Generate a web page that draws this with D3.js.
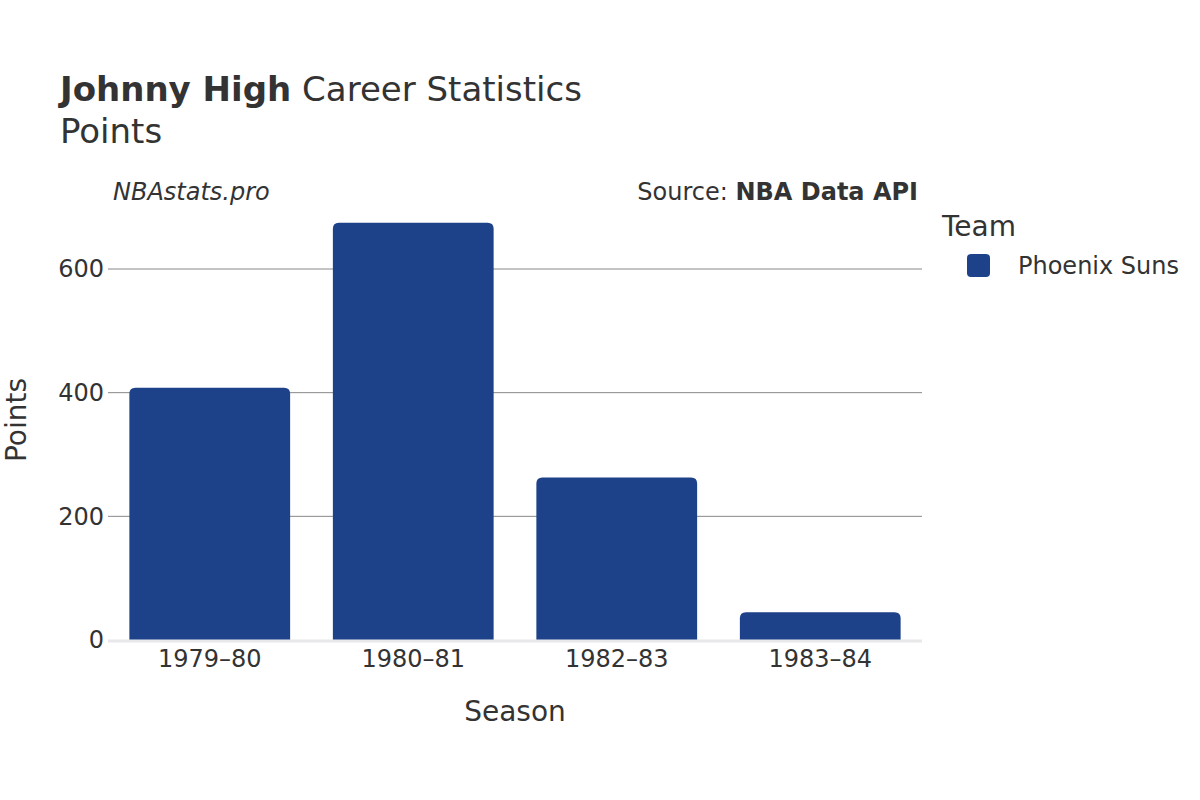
<!DOCTYPE html>
<html><head><meta charset="utf-8">
<script src="https://cdn.jsdelivr.net/npm/d3@7"></script>
<style>body{margin:0;background:#fff;} text{font-family:"DejaVu Sans",sans-serif;}</style>
</head><body><svg id="c" width="1200" height="800"></svg>
<script>
const seasons = ["1979–80","1980–81","1982–83","1983–84"];
const points = [408, 675, 263, 45];
const yTicks = [0,200,400,600];
const teamName = "Phoenix Suns";
const barColor = "#1d428a";

const svg = d3.select("#c");
const m = {l:108, r:922, t:175, b:640};
const x = d3.scaleBand().domain(seasons).range([m.l, m.r]).paddingInner(0.21).paddingOuter(0.105);
const y = d3.scaleLinear().domain([0, 600]).range([m.b, 269]);

// grid
svg.append("g").selectAll("line").data(yTicks.filter(d=>d>0)).join("line")
  .attr("x1", m.l).attr("x2", m.r).attr("y1", d=>y(d)).attr("y2", d=>y(d))
  .attr("stroke", "#888").attr("stroke-width", 1);

// bars with rounded top
const r = 6;
svg.append("g").selectAll("path").data(seasons).join("path")
  .attr("fill", barColor)
  .attr("d", (s,i)=>{
    const x0 = x(s), w = x.bandwidth(), y0 = y(points[i]), yb = y(0);
    return `M${x0},${yb}V${y0+r}Q${x0},${y0} ${x0+r},${y0}H${x0+w-r}Q${x0+w},${y0} ${x0+w},${y0+r}V${yb}Z`;
  });

// zero line
svg.append("line").attr("x1", m.l).attr("x2", m.r).attr("y1", y(0)+1).attr("y2", y(0)+1)
  .attr("stroke", "#e8e8ea").attr("stroke-width", 3);

// y axis labels
svg.append("g").selectAll("text").data(yTicks).join("text")
  .attr("x", 104).attr("y", d=>y(d)).attr("dy", "0.35em").attr("text-anchor", "end")
  .attr("font-size", 24).attr("fill", "#333").text(d=>d);

// x axis labels
svg.append("g").selectAll("text").data(seasons).join("text")
  .attr("x", d=>x(d)+x.bandwidth()/2).attr("y", 667).attr("text-anchor", "middle")
  .attr("font-size", 24).attr("fill", "#333").text(d=>d);

// axis titles
svg.append("text").attr("x", 515).attr("y", 721).attr("text-anchor", "middle")
  .attr("font-size", 28).attr("fill", "#333").text("Season");
svg.append("text").attr("transform", "translate(26,420) rotate(-90)").attr("text-anchor", "middle")
  .attr("font-size", 28).attr("fill", "#333").text("Points");

// title
const t = svg.append("text").attr("x", 60).attr("y", 101).attr("font-size", 34).attr("fill", "#333");
t.append("tspan").attr("font-weight", "bold").text("Johnny High");
t.append("tspan").text(" Career Statistics");
svg.append("text").attr("x", 60).attr("y", 143).attr("font-size", 34).attr("fill", "#333").text("Points");

// watermark / source
svg.append("text").attr("x", 113).attr("y", 200).attr("font-size", 24).attr("font-style", "italic")
  .attr("fill", "#333").text("NBAstats.pro");
const s = svg.append("text").attr("x", 918).attr("y", 200).attr("text-anchor", "end").attr("font-size", 24).attr("fill", "#333");
s.append("tspan").text("Source: ");
s.append("tspan").attr("font-weight", "bold").text("NBA Data API");

// legend
svg.append("text").attr("x", 942).attr("y", 236).attr("font-size", 28).attr("fill", "#333").text("Team");
svg.append("rect").attr("x", 967).attr("y", 254).attr("width", 23).attr("height", 23).attr("rx", 4)
  .attr("fill", barColor);
svg.append("text").attr("x", 1018).attr("y", 274).attr("font-size", 24).attr("fill", "#333").text(teamName);
</script></body></html>
